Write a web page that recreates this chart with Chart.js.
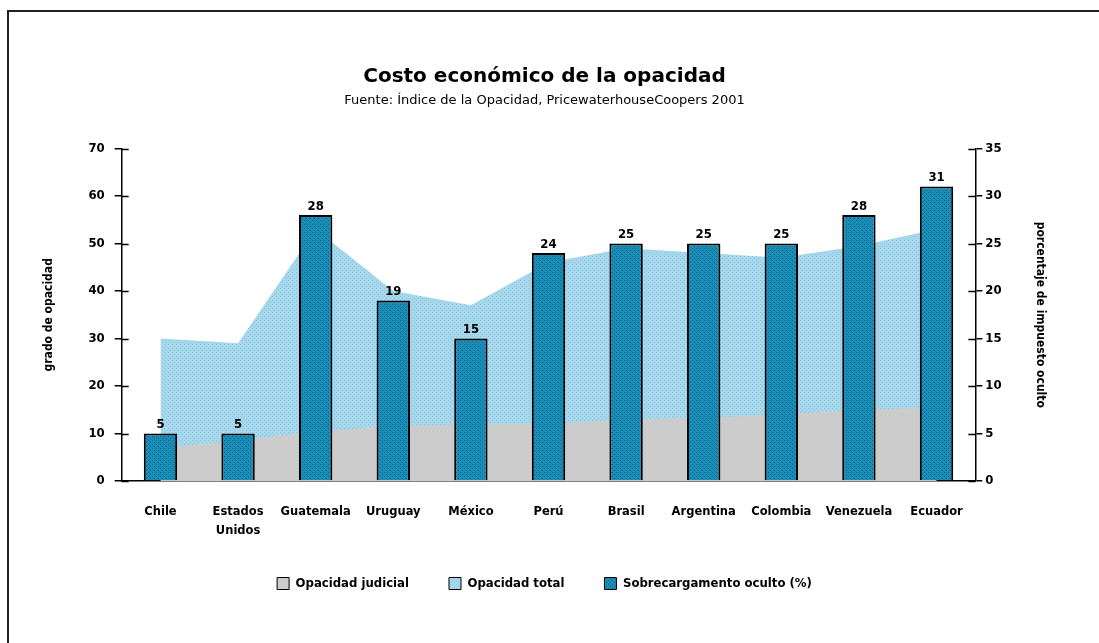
<!DOCTYPE html>
<html>
  <head>
    <meta charset="utf-8" />
    <title>Costo económico de la opacidad</title>
    <script src="https://cdn.jsdelivr.net/npm/chart.js@4"></script>
    <style>
      body { margin: 0; background: #fff; }
      #frame {
        position: absolute; left: 7px; top: 10px;
        width: 1300px; height: 900px;
        border-top: 2px solid #222; border-left: 2px solid #222;
      }
      #wrap { position: absolute; left: 0; top: 0; }
    </style>
  </head>
  <body>
    <div id="frame"></div>
    <div id="wrap"><canvas id="myChart" width="1099" height="643"></canvas></div>
    <script>
      const paises = [
        "Chile", ["Estados", "Unidos"], "Guatemala", "Uruguay", "México",
        "Perú", "Brasil", "Argentina", "Colombia", "Venezuela", "Ecuador",
      ];
      const opacidadJudicial = [7, 8.5, 10.5, 11.5, 12, 12, 13, 13.3, 14, 15, 15.5];
      const opacidadTotal = [30, 29, 53, 40, 37, 46, 49, 48, 47, 49.5, 53];
      const sobrecargo = [5, 5, 28, 19, 15, 24, 25, 25, 25, 28, 31];

      const FONT = "'Liberation Sans Narrow', 'DejaVu Sans Condensed', 'Liberation Sans', sans-serif";
      const WIDE = "'DejaVu Sans', 'Liberation Sans', sans-serif";

      function makePattern(base, dot) {
        const c = document.createElement("canvas");
        c.width = 4; c.height = 4;
        const g = c.getContext("2d");
        g.fillStyle = base; g.fillRect(0, 0, 4, 4);
        g.fillStyle = dot; g.fillRect(0, 0, 1, 1); g.fillRect(2, 2, 1, 1);
        return g.createPattern(c, "repeat");
      }
      const ctx = document.getElementById("myChart");
      const barFill = makePattern("#1a8db6", "#0a5f8c");
      const areaFill = makePattern("#a8d6ec", "#80ccd8");

      // etiquetas encima de las barras + marcas hacia dentro en los ejes
      const extras = {
        id: "extras",
        afterDatasetsDraw(chart) {
          const c = chart.ctx;
          const meta = chart.getDatasetMeta(2);
          c.save();
          c.fillStyle = "#000";
          c.font = "bold 13px " + FONT;
          c.textAlign = "center";
          c.textBaseline = "bottom";
          meta.data.forEach((bar, i) => {
            c.fillText(String(sobrecargo[i]), bar.x, bar.y - 2);
          });
          c.strokeStyle = "#000";
          c.lineWidth = 1.5;
          const yl = chart.scales.y, yr = chart.scales.y2;
          yl.ticks.forEach((t) => {
            const p = Math.round(yl.getPixelForValue(t.value)) + 0.5;
            c.beginPath(); c.moveTo(yl.right, p); c.lineTo(yl.right + 7, p); c.stroke();
          });
          yr.ticks.forEach((t) => {
            const p = Math.round(yr.getPixelForValue(t.value)) + 0.5;
            c.beginPath(); c.moveTo(yr.left, p); c.lineTo(yr.left - 7, p); c.stroke();
          });
          c.restore();
        },
      };

      const data = {
        labels: paises,
        datasets: [
          {
            type: "line",
            label: "Opacidad judicial",
            data: opacidadJudicial,
            yAxisID: "y",
            backgroundColor: "#cccccc",
            borderWidth: 0,
            pointRadius: 0,
            fill: "origin",
            order: 1,
          },
          {
            type: "line",
            label: "Opacidad total",
            data: opacidadTotal,
            yAxisID: "y",
            backgroundColor: areaFill,
            borderWidth: 0,
            pointRadius: 0,
            fill: "origin",
            order: 2,
          },
          {
            type: "bar",
            label: "Sobrecargamento oculto (%)",
            data: sobrecargo,
            yAxisID: "y2",
            backgroundColor: barFill,
            borderColor: "#000",
            borderWidth: 2,
            barPercentage: 0.43,
            categoryPercentage: 1,
            order: 0,
          },
        ],
      };

      const tickFont = { family: FONT, size: 13, weight: "bold" };
      const config = {
        type: "bar",
        data: data,
        plugins: [extras],
        options: {
          responsive: false,
          animation: false,
          layout: { padding: { left: 38, right: 48, top: 65, bottom: 43 } },
          plugins: {
            tooltip: { enabled: false },
            title: {
              display: true,
              text: "Costo económico de la opacidad",
              color: "#000",
              font: { family: WIDE, size: 20, weight: "bold" },
              padding: { top: 0, bottom: 4 },
            },
            subtitle: {
              display: true,
              text: "Fuente: Índice de la Opacidad, PricewaterhouseCoopers 2001",
              color: "#000",
              font: { family: WIDE, size: 13 },
              padding: { top: 0, bottom: 40 },
            },
            legend: {
              position: "bottom",
              labels: {
                color: "#000",
                font: { family: FONT, size: 13, weight: "bold" },
                boxWidth: 12,
                boxHeight: 12,
                padding: 40,
                sort: (a, b) => a.datasetIndex - b.datasetIndex,
                generateLabels(chart) {
                  return Chart.defaults.plugins.legend.labels
                    .generateLabels(chart)
                    .map((l) => Object.assign(l, { strokeStyle: "#000", lineWidth: 1 }));
                },
              },
            },
          },
          scales: {
            x: {
              offset: true,
              grid: { display: false, drawTicks: false },
              border: { color: "#000", width: 1.5 },
              ticks: {
                color: "#000",
                font: { family: WIDE, size: 11.5, weight: "bold", lineHeight: 1.7 },
                padding: 21,
                maxRotation: 0,
                autoSkip: false,
              },
              afterFit(scale) {
                scale.height = 56;
              },
            },
            y: {
              position: "left",
              min: 0,
              max: 70,
              ticks: { stepSize: 10, color: "#000", font: tickFont, padding: 10 },
              grid: { drawOnChartArea: false, tickLength: 7, color: "#000", lineWidth: 1.5 },
              border: { color: "#000", width: 1.5 },
              title: {
                display: true,
                text: "grado de opacidad",
                color: "#000",
                font: { family: FONT, size: 12, weight: "bold" },
                padding: { top: 4, bottom: 22 },
              },
            },
            y2: {
              position: "right",
              min: 0,
              max: 35,
              ticks: { stepSize: 5, color: "#000", font: tickFont, padding: 3 },
              grid: { drawOnChartArea: false, tickLength: 7, color: "#000", lineWidth: 1.5 },
              border: { color: "#000", width: 1.5 },
              title: {
                display: true,
                text: "porcentaje de impuesto oculto",
                color: "#000",
                font: { family: FONT, size: 12, weight: "bold" },
                padding: { top: 4, bottom: 28 },
              },
            },
          },
        },
      };

      const myChart = new Chart(ctx, config);
    </script>
  </body>
</html>
